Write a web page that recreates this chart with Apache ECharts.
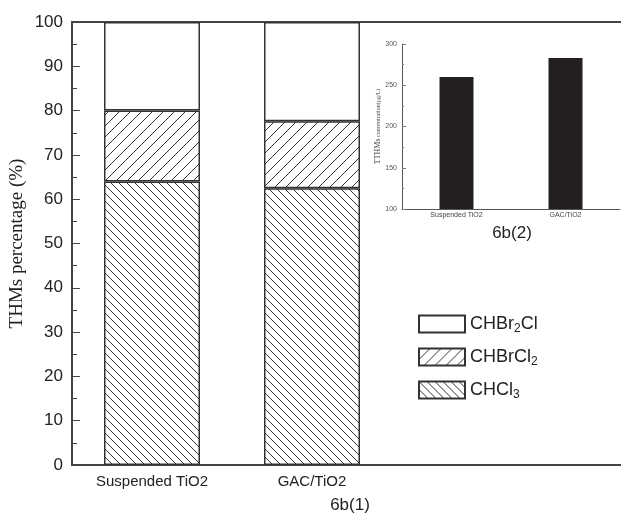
<!DOCTYPE html>
<html>
<head>
<meta charset="utf-8">
<script src="https://cdn.jsdelivr.net/npm/echarts@6/dist/echarts.min.js"></script>
<style>
  html, body { margin: 0; padding: 0; background: #fff; }
  #chart { width: 621px; height: 515px; }
</style>
</head>
<body>
<div id="chart"></div>
<script>
// Composition of THMs (%) for the two catalysts
const categories = ['Suspended TiO2', 'GAC/TiO2', '', ''];
const chcl3 = [64.0, 62.5];
const chbrcl2 = [16.0, 15.1];
const chbr2cl = [20.0, 22.4];
const yTicks = [0, 10, 20, 30, 40, 50, 60, 70, 80, 90, 100];

// Total THMs concentration (μg/L), inset chart
const insetCategories = ['Suspended TiO2', 'GAC/TiO2'];
const tthms = [260, 283];
const insetTicks = [100, 150, 200, 250, 300];

const INK = '#333';

// Build a repeating hatch tile: dir = 1 for "/" and -1 for "\"
function hatch(size, dir) {
  const c = document.createElement('canvas');
  c.width = size; c.height = size;
  const g = c.getContext('2d');
  g.fillStyle = '#fff';
  g.fillRect(0, 0, size, size);
  g.strokeStyle = INK;
  g.lineWidth = 1;
  g.beginPath();
  if (dir > 0) {
    g.moveTo(-1, size + 1); g.lineTo(size + 1, -1);
    g.moveTo(-1, 1); g.lineTo(1, -1);
    g.moveTo(size - 1, size + 1); g.lineTo(size + 1, size - 1);
  } else {
    g.moveTo(-1, -1); g.lineTo(size + 1, size + 1);
    g.moveTo(size - 1, -1); g.lineTo(size + 1, 1);
    g.moveTo(-1, size - 1); g.lineTo(1, size + 1);
  }
  g.stroke();
  return { image: c, repeat: 'repeat' };
}

const back = hatch(8, -1);
const fwd = hatch(11, 1);

const chart = echarts.init(document.getElementById('chart'), null, { renderer: 'canvas' });

const sans = 'Liberation Sans, Arial, sans-serif';
const serif = 'Liberation Serif, Times New Roman, serif';

function barStyle(color) {
  return { color: color, borderColor: INK, borderWidth: 1.5 };
}

chart.setOption({
  backgroundColor: '#fff',
  animation: false,
  grid: [
    // main plot runs past the right edge of the canvas (4 category bands)
    { left: 72, top: 22, width: 640, height: 443, outerBoundsMode: 'none', containLabel: false,
      show: true, borderColor: '#444', borderWidth: 2, backgroundColor: 'transparent' },
    { left: 402, top: 44, width: 218, height: 165, outerBoundsMode: 'none', containLabel: false }
  ],
  legend: {
    orient: 'vertical',
    left: 413, top: 307,
    itemWidth: 46, itemHeight: 17, itemGap: 10,
    icon: 'rect',
    data: ['CHBr2Cl', 'CHBrCl2', 'CHCl3'],
    formatter: function (name) { return name.replace(/(\d)/g, '{s|$1}'); },
    textStyle: {
      fontFamily: sans, fontSize: 18, color: '#222', lineHeight: 22,
      rich: { s: { fontFamily: sans, fontSize: 12, color: '#222', lineHeight: 12, verticalAlign: 'bottom', padding: [11, 0, 0, 0] } }
    }
  },
  xAxis: [
    {
      type: 'category', gridIndex: 0, data: categories,
      axisLine: { lineStyle: { color: '#444', width: 2 } },
      axisTick: { inside: true, length: 5, lineStyle: { color: '#444' } },
      axisLabel: { fontFamily: sans, fontSize: 15, color: '#222', margin: 9, interval: 0 }
    },
    {
      type: 'category', gridIndex: 0, data: categories, position: 'bottom',
      axisLine: { show: false },
      axisTick: { inside: true, length: 5, alignWithLabel: true, lineStyle: { color: '#444' } },
      axisLabel: { show: false }
    },
    {
      type: 'category', gridIndex: 1, data: insetCategories,
      axisLine: { lineStyle: { color: '#555', width: 1 } },
      axisTick: { inside: true, length: 3, lineStyle: { color: '#777' } },
      axisLabel: { fontFamily: sans, fontSize: 7, color: '#444', margin: 3 }
    }
  ],
  yAxis: [
    {
      type: 'value', gridIndex: 0, min: yTicks[0], max: yTicks[yTicks.length - 1], interval: 10,
      name: 'THMs percentage (%)', nameLocation: 'middle', nameGap: 45, nameMoveOverlap: false,
      nameTextStyle: { fontFamily: serif, fontSize: 19, color: '#222' },
      axisLine: { show: true, lineStyle: { color: '#444', width: 2 } },
      axisTick: { show: true, inside: true, length: 8, lineStyle: { color: '#444' } },
      minorTick: { show: true, splitNumber: 2, length: 5, lineStyle: { color: '#444' } },
      splitLine: { show: false },
      axisLabel: { fontFamily: sans, fontSize: 17, color: '#222', margin: 9 }
    },
    {
      type: 'value', gridIndex: 1, min: insetTicks[0], max: insetTicks[insetTicks.length - 1], interval: 50,
      name: '{b|TTHMs} concentration(μg/L)', nameLocation: 'middle', nameGap: 20, nameMoveOverlap: false,
      nameTextStyle: { fontFamily: serif, fontSize: 6, color: '#444', rich: { b: { fontFamily: serif, fontSize: 8, color: '#444' } } },
      axisLine: { show: true, lineStyle: { color: '#555', width: 1 } },
      axisTick: { show: true, inside: true, length: 4, lineStyle: { color: '#777' } },
      minorTick: { show: true, splitNumber: 2, length: 2, lineStyle: { color: '#777' } },
      splitLine: { show: false },
      axisLabel: { fontFamily: sans, fontSize: 7, color: '#555', margin: 5 }
    }
  ],
  series: [
    { name: 'CHCl3', type: 'bar', stack: 'p', xAxisIndex: 0, yAxisIndex: 0, barWidth: 96, data: chcl3, itemStyle: barStyle(back) },
    { name: 'CHBrCl2', type: 'bar', stack: 'p', xAxisIndex: 0, yAxisIndex: 0, barWidth: 96, data: chbrcl2, itemStyle: barStyle(fwd) },
    { name: 'CHBr2Cl', type: 'bar', stack: 'p', xAxisIndex: 0, yAxisIndex: 0, barWidth: 96, data: chbr2cl, itemStyle: barStyle('#fff') },
    { name: 'TTHMs', type: 'bar', xAxisIndex: 2, yAxisIndex: 1, barWidth: 34, data: tthms, itemStyle: { color: '#231f20' } }
  ],
  graphic: [
    { type: 'text', x: 350, y: 505, style: { text: '6b(1)', font: '17px ' + sans, fill: '#222', align: 'center', verticalAlign: 'middle' } },
    { type: 'text', x: 512, y: 233, style: { text: '6b(2)', font: '17px ' + sans, fill: '#222', align: 'center', verticalAlign: 'middle' } }
  ]
});
</script>
</body>
</html>
